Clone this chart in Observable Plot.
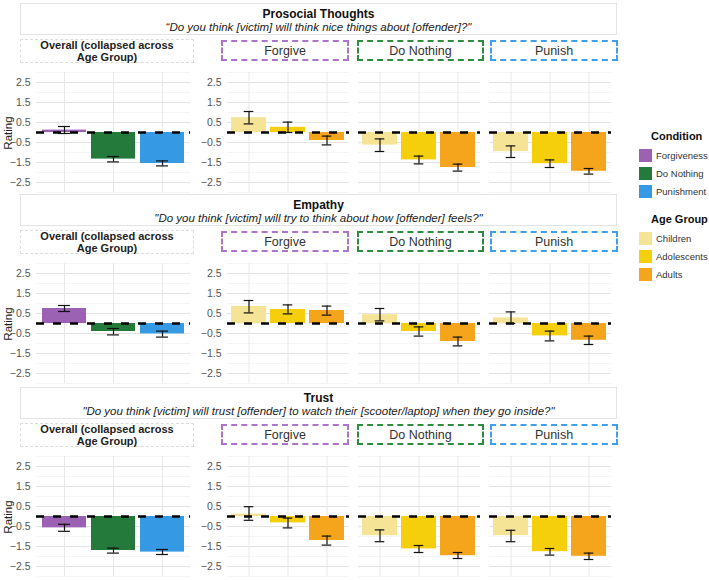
<!DOCTYPE html>
<html><head><meta charset="utf-8">
<script src="https://cdn.jsdelivr.net/npm/d3@7"></script>
<script src="https://cdn.jsdelivr.net/npm/@observablehq/plot@0.6"></script>
<style>
body{margin:0;background:#fff;font-family:"Liberation Sans",Arial,sans-serif;}
#root{position:relative;width:709px;height:580px;overflow:hidden;background:#fff;}
.abs{position:absolute;box-sizing:border-box;white-space:nowrap;}
.tbox{border:1px solid #e3e3e3;text-align:center;color:#111;}
.tbox .t{font-weight:bold;font-size:12px;line-height:13px;margin-top:4px;}
.tbox .s{font-style:italic;font-size:11.5px;line-height:13px;color:#222;}
.strip{display:flex;align-items:center;justify-content:center;text-align:center;}
.ov{border:1px dashed #dcdcdc;font-weight:bold;font-size:11px;line-height:12px;color:#222;}
.cs{font-size:12.5px;color:#333;}
.leg-t{font-weight:bold;font-size:11px;color:#111;}
.leg-s{width:13px;height:13px;}
.leg-l{font-size:9.5px;color:#333;}
.ylab{font-size:11.5px;color:#222;transform:translate(-50%,-50%) rotate(-90deg);}
</style></head><body><div id="root"></div><script>
const measures = ["Prosocial Thoughts", "Empathy", "Trust"];
const questions = [
  "\u201cDo you think [victim] will think nice things about [offender]?\"",
  "\"Do you think [victim] will try to think about how [offender] feels?\"",
  "\"Do you think [victim] will trust [offender] to watch their [scooter/laptop] when they go inside?\""
];
const conditions = ["Forgiveness", "Do Nothing", "Punishment"];
const conditionStrips = ["Forgive", "Do Nothing", "Punish"];
const ageGroups = ["Children", "Adolescents", "Adults"];
const yTicks = [-2.5, -1.5, -0.5, 0.5, 1.5, 2.5];
const yMinor = [-3, -2, -1, 0, 1, 2, 3];
const condColors = ["#9b62b3", "#247a3a", "#3599e3"];
const ageColors = ["#f6e496", "#f6cf0c", "#f5a51c"];
const stripColors = ["#ad74c9", "#2f8c3f", "#3f9fe8"];

// overall means and error-bar limits [measure][condition]
const overallMean = [[0.12, -1.33, -1.55], [0.75, -0.40, -0.52], [-0.57, -1.70, -1.78]];
const overallLo   = [[-0.05, -1.47, -1.67], [0.60, -0.57, -0.68], [-0.74, -1.83, -1.90]];
const overallHi   = [[0.30, -1.20, -1.42], [0.90, -0.25, -0.38], [-0.39, -1.58, -1.65]];

// age means [measure][condition][age]
const ageMean = [
  [[0.74, 0.26, -0.40], [-0.63, -1.37, -1.75], [-0.96, -1.56, -1.94]],
  [[0.85, 0.70, 0.65], [0.44, -0.40, -0.90], [0.28, -0.62, -0.84]],
  [[0.12, -0.32, -1.20], [-0.96, -1.62, -1.96], [-0.96, -1.76, -1.99]]
];
const ageLo = [
  [[0.43, 0.00, -0.62], [-0.95, -1.57, -1.93], [-1.25, -1.75, -2.08]],
  [[0.53, 0.48, 0.42], [0.13, -0.63, -1.12], [0.00, -0.87, -1.05]],
  [[-0.19, -0.57, -1.43], [-1.26, -1.80, -2.10], [-1.26, -1.93, -2.15]]
];
const ageHi = [
  [[1.05, 0.52, -0.18], [-0.32, -1.18, -1.58], [-0.67, -1.37, -1.80]],
  [[1.15, 0.93, 0.87], [0.75, -0.17, -0.68], [0.58, -0.38, -0.63]],
  [[0.49, -0.08, -0.98], [-0.67, -1.45, -1.80], [-0.69, -1.60, -1.83]]
];

const root = document.getElementById("root");
function div(cls, css, html) {
  const d = document.createElement("div");
  d.className = "abs " + cls;
  Object.assign(d.style, css);
  if (html != null) d.innerHTML = html;
  root.appendChild(d);
  return d;
}

function panel({cats, colors, means, los, his, left, top, width, marginLeft, pad, capW, axis}) {
  const data = cats.map((c, i) => ({cat: c, m: means[i], lo: los[i], hi: his[i]}));
  const plotW = width - marginLeft;
  const step = plotW / (cats.length + pad);
  const bw = step * (1 - pad);
  const ins = (bw - capW) / 2;
  const cap = {x: "cat", insetLeft: ins, insetRight: ins, stroke: "#111", strokeWidth: 1.2};
  const svg = Plot.plot({
    width, height: 128, marginTop: 4, marginBottom: 4, marginLeft, marginRight: 0,
    style: {fontSize: "10.5px", fontFamily: "Liberation Sans, Arial, sans-serif", color: "#555", background: "transparent", overflow: "visible"},
    x: {type: "band", domain: cats, padding: pad, axis: null},
    y: {domain: [-3, 3], axis: null},
    color: {domain: cats, range: colors},
    marks: [
      Plot.gridY(yMinor, {stroke: "#f1f1f1", strokeOpacity: 1, strokeWidth: 0.7}),
      Plot.gridY(yTicks, {stroke: "#e4e4e4", strokeOpacity: 1, strokeWidth: 1}),
      Plot.gridX(cats, {stroke: "#e8e8e8", strokeOpacity: 1, strokeWidth: 1}),
      Plot.barY(data, {x: "cat", y: "m", fill: "cat"}),
      Plot.ruleY([0], {stroke: "#000", strokeWidth: 2.5, strokeDasharray: "8,9"}),
      Plot.ruleX(data, {x: "cat", y1: "lo", y2: "hi", stroke: "#111", strokeWidth: 1.2}),
      Plot.tickY(data, {...cap, y: "lo"}),
      Plot.tickY(data, {...cap, y: "hi"}),
      axis ? Plot.axisY(yTicks, {tickSize: 0, tickPadding: 6, tickFormat: d3.format(".1f"), fill: "#555", label: null}) : null
    ]
  });
  svg.style.position = "absolute";
  svg.style.left = left + "px";
  svg.style.top = top + "px";
  root.appendChild(svg);
  return svg;
}

const rowTops = [3, 194, 387];
const agePanels = [{left: 196, width: 153, ml: 31}, {left: 358, width: 122, ml: 0}, {left: 489, width: 122, ml: 0}];
const ageStrips = [{l: 221, w: 128}, {l: 357, w: 127}, {l: 490, w: 128}];

measures.forEach((m, r) => {
  const T = rowTops[r];
  div("tbox", {left: "20px", top: T + "px", width: "597px", height: "32px"},
    `<div class="t">${m}</div><div class="s">${questions[r]}</div>`);
  div("strip ov", {left: "20px", top: (T + 36) + "px", width: "174px", height: "24px"},
    "Overall (collapsed across<br>Age Group)");
  conditionStrips.forEach((c, j) => {
    div("strip cs", {left: ageStrips[j].l + "px", top: (T + 37) + "px", width: ageStrips[j].w + "px", height: "21px",
      border: "2px dashed " + stripColors[j]}, c);
  });
  const plotTop = T + 69 - 4;
  div("ylab", {left: "8px", top: (T + 130) + "px"}, "Rating");
  panel({cats: conditions, colors: condColors, means: overallMean[r], los: overallLo[r], his: overallHi[r],
    left: 0, top: plotTop, width: 190, marginLeft: 36, pad: 0.11, capW: 12, axis: true});
  conditionStrips.forEach((c, j) => {
    const p = agePanels[j];
    panel({cats: ageGroups, colors: ageColors, means: ageMean[r][j], los: ageLo[r][j], his: ageHi[r][j],
      left: p.left, top: plotTop, width: p.width, marginLeft: p.ml, pad: 0.1, capW: 10, axis: j === 0});
  });
});

// legend
function legend(title, items, colors, top) {
  div("leg-t", {left: "651px", top: (top - 7) + "px"}, title);
  items.forEach((it, i) => {
    const y = top + 12 + i * 18;
    div("leg-s", {left: "639px", top: y + "px", background: colors[i]});
    div("leg-l", {left: "656px", top: (y + 1) + "px"}, it);
  });
}
legend("Condition", conditions, condColors, 137);
legend("Age Group", ageGroups, ageColors, 220);
</script></body></html>
